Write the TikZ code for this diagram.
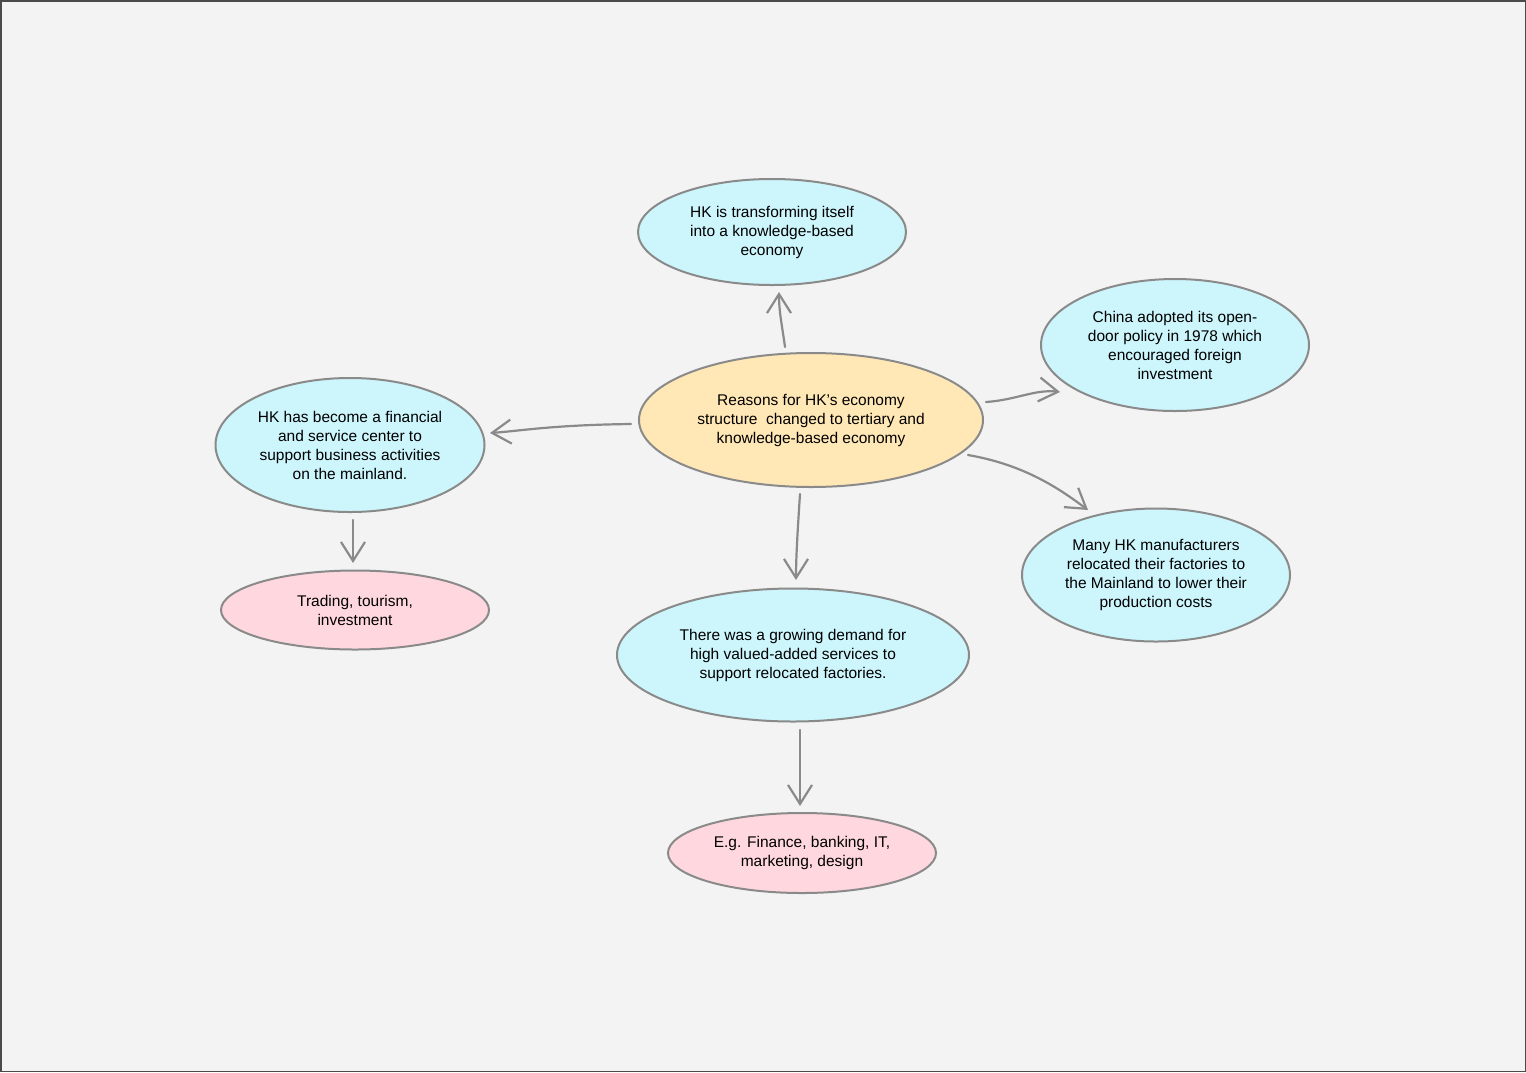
\documentclass[tikz,border=0pt]{standalone}
\usepackage{fontspec}
\setmainfont{Liberation Sans}
\usetikzlibrary{shapes.geometric,arrows.meta,calc}
\definecolor{bg}{HTML}{F3F3F3}
\definecolor{frame}{HTML}{4A4A4A}
\definecolor{edge}{HTML}{8A8A8A}
\definecolor{blue}{HTML}{CDF5FC}
\definecolor{yellow}{HTML}{FFE8B6}
\definecolor{pink}{HTML}{FFD8DF}
\tikzset{
  bubble/.style={ellipse, draw=edge, line width=2pt, inner sep=0pt, align=center,
    font=\fontsize{15.5}{19}\selectfont, text=black},
  bluebub/.style={bubble, fill=blue},
  pinkbub/.style={bubble, fill=pink},
  yellowbub/.style={bubble, fill=yellow},
  arr/.style={draw=edge, line width=2.2pt, line cap=round, line join=round,
    -{Straight Barb[length=19pt,width=24pt,line width=2.2pt]}}
}
\begin{document}
\begin{tikzpicture}[x=1pt,y=-1pt]
\fill[bg] (0,0) rectangle (1526,1072);
\draw[frame, line width=1.5pt] (0.75,0.75) rectangle (1525.25,1071.25);
\useasboundingbox (0,0) rectangle (1526,1072);

\node[yellowbub, minimum width=344pt, minimum height=134pt] (c) at (811,420)
  {Reasons for HK's economy\\structure\ \ changed to tertiary and\\knowledge-based economy};
\node[bluebub, minimum width=268pt, minimum height=106pt] (top) at (772,232)
  {HK is transforming itself\\into a knowledge-based\\economy};
\node[bluebub, minimum width=268pt, minimum height=132pt] (china) at (1175,345)
  {China adopted its open-\\door policy in 1978 which\\encouraged foreign\\investment};
\node[bluebub, minimum width=269pt, minimum height=134pt] (left) at (350,445)
  {HK has become a financial\\and service center to\\support business activities\\on the mainland.};
\node[pinkbub, minimum width=268pt, minimum height=79pt] (trade) at (355,610)
  {Trading, tourism,\\investment};
\node[bluebub, minimum width=268pt, minimum height=133pt] (many) at (1156,575)
  {Many HK manufacturers\\relocated their factories to\\the Mainland to lower their\\production costs};
\node[bluebub, minimum width=352pt, minimum height=133pt] (demand) at (793,655)
  {There was a growing demand for\\high valued-added services to\\support relocated factories.};
\node[pinkbub, minimum width=268pt, minimum height=80pt] (eg) at (802,853)
  {E.g. Finance, banking, IT,\\marketing, design};

\draw[arr] ($(c)+(-26,-73)$) .. controls ($(c)+(-29,-95)$) and ($(top)+(7,80)$) .. ($(top)+(7,60)$);
\draw[arr] ($(c)+(-180,4)$) .. controls ($(c)+(-260,5)$) and ($(left)+(170,-14)$) .. ($(left)+(140,-12)$);
\draw[arr] ($(c)+(175,-18)$) .. controls ($(c)+(205,-20)$) and ($(china)+(-140,44)$) .. ($(china)+(-115,47)$);
\draw[arr] ($(c)+(157,35)$) .. controls ($(c)+(215,45)$) and ($(many)+(-95,-85)$) .. ($(many)+(-68,-65)$);
\draw[arr] ($(c)+(-11,74)$) .. controls ($(c)+(-13,105)$) and ($(demand)+(3,-100)$) .. ($(demand)+(3,-75)$);
\draw[arr] ($(left)+(3,75)$) -- ($(trade)+(-2,-47)$);
\draw[arr] ($(demand)+(7,75)$) -- ($(eg)+(-2,-47)$);
\end{tikzpicture}
\end{document}
